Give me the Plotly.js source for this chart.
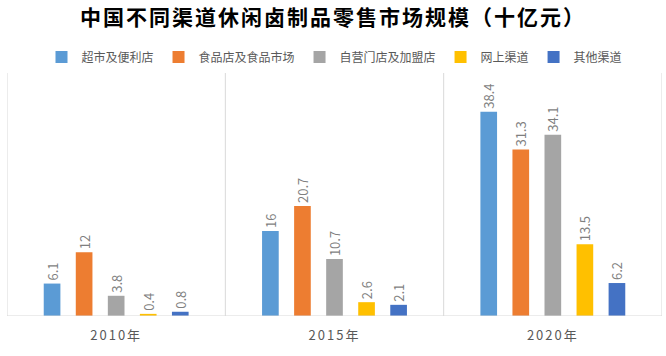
<!DOCTYPE html>
<html><head><meta charset="utf-8">
<script src="https://cdn.plot.ly/plotly-3.0.1.min.js"></script>
<style>body{margin:0;} .xtick text{letter-spacing:2px;} .gtitle{letter-spacing:2px;}</style>
</head><body><div id="chart" style="width:666px;height:356px;"></div>
<script>
const categories = ['2010年', '2015年', '2020年'];
const seriesNames = ['超市及便利店', '食品店及食品市场', '自营门店及加盟店', '网上渠道', '其他渠道'];
const supermarket = [6.1, 16, 38.4];
const foodStore = [12, 20.7, 31.3];
const ownStore = [3.8, 10.7, 34.1];
const online = [0.4, 2.6, 13.5];
const other = [0.8, 2.1, 6.2];
const colors = ['#5B9BD5', '#ED7D31', '#A5A5A5', '#FFC000', '#4472C4'];
const values = [supermarket, foodStore, ownStore, online, other];
const font = '"Noto Sans CJK SC", "Noto Sans", sans-serif';

const traces = values.map((v, i) => ({
  type: 'bar', name: seriesNames[i], x: categories, y: v,
  marker: {color: colors[i]},
  text: v.map(String), textposition: 'outside', textangle: -90, constraintext: 'none',
  textfont: {family: font, size: 13, color: '#7f7f7f'},
  cliponaxis: false, hoverinfo: 'none'
}));

const shapes = [-0.5, 0.5, 1.5, 2.5].map(xv => ({
  type: 'line', xref: 'x', yref: 'paper', x0: xv, x1: xv, y0: 0, y1: 1,
  line: {color: '#d9d9d9', width: 1}
}));

const layout = {
  width: 666, height: 356,
  margin: {l: 7, r: 4, t: 73, b: 40},
  paper_bgcolor: '#ffffff', plot_bgcolor: '#ffffff',
  title: {text: '<b>中国不同渠道休闲卤制品零售市场规模（十亿元）</b>', x: 0.5, xanchor: 'center', y: 0.95, yanchor: 'middle',
    font: {family: font, size: 21, color: '#000000'}},
  showlegend: true,
  legend: {orientation: 'h', x: 0.5, xanchor: 'center', y: 1.066, yanchor: 'middle',
    font: {family: font, size: 12, color: '#595959'}, itemwidth: 30, tracegroupgap: 0},
  barmode: 'group', bargap: 0.266, bargroupgap: 0.48,
  xaxis: {type: 'category', showgrid: false, zeroline: false, showline: false,
    ticks: '', ticklabelstandoff: 10, tickfont: {family: font, size: 13, color: '#595959'}, range: [-0.5, 2.5]},
  yaxis: {range: [0, 45.7], visible: false, showgrid: false, zeroline: false},
  shapes: shapes.concat([{type: 'line', xref: 'paper', yref: 'y', x0: 0, x1: 1, y0: 0, y1: 0,
    line: {color: '#d9d9d9', width: 1}}])
};
Plotly.newPlot('chart', traces, layout, {displayModeBar: false, staticPlot: true});
</script></body></html>
